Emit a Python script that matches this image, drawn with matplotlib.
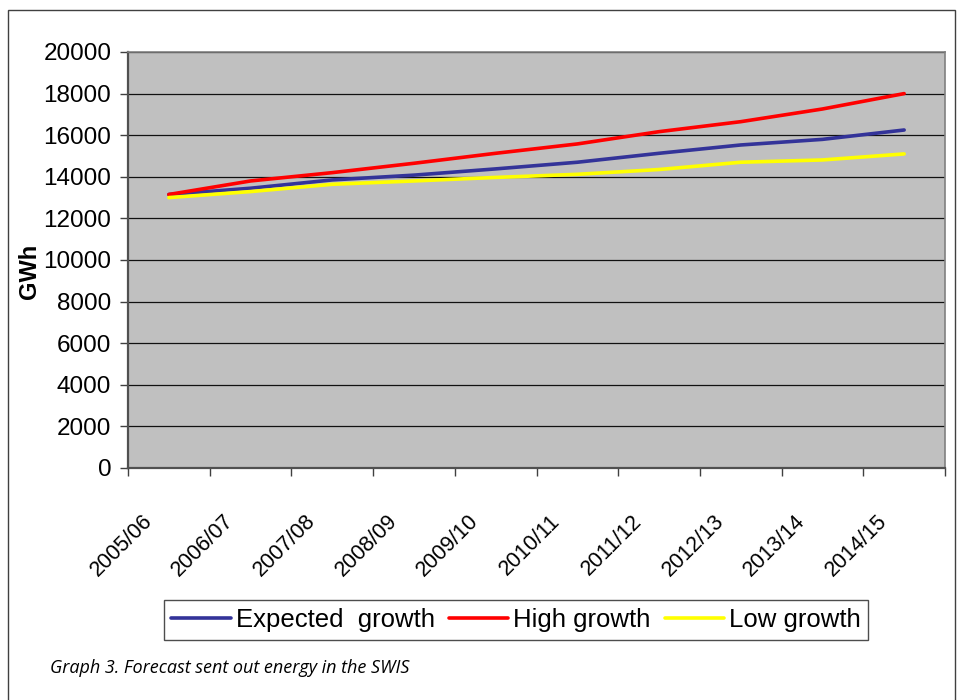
import matplotlib
matplotlib.use("Agg")
import matplotlib.pyplot as plt
import matplotlib.transforms as mtransforms
from matplotlib.patches import Rectangle
import numpy as np

# Financial years of the forecast
years = ["2005/06", "2006/07", "2007/08", "2008/09", "2009/10",
         "2010/11", "2011/12", "2012/13", "2013/14", "2014/15"]

# Sent out energy forecasts (GWh)
expected_growth = [13150, 13450, 13850, 14080, 14380, 14700, 15130, 15530, 15800, 16250]
high_growth = [13150, 13800, 14200, 14650, 15130, 15580, 16170, 16650, 17260, 18000]
low_growth = [13000, 13290, 13640, 13800, 13970, 14120, 14350, 14700, 14810, 15100]

y_ticks = list(range(0, 20001, 2000))

plt.rcParams["font.family"] = ["Liberation Sans", "DejaVu Sans"]

fig = plt.figure(figsize=(9.57, 7.0), dpi=100)
W, H = 957, 700

# outer frame around the chart and caption
fig.patches.append(Rectangle((8 / W, -0.01), (955 - 8) / W, 1 - 10 / H + 0.01,
                             transform=fig.transFigure, fill=False,
                             edgecolor="#404040", linewidth=1.0))

ax = fig.add_axes([128 / W, 1 - 468 / H, (945 - 128) / W, (468 - 52) / H])
ax.set_facecolor("#C0C0C0")

x = np.arange(len(years))
ax.plot(x, expected_growth, color="#333399", lw=2.6, label="Expected  growth",
        solid_capstyle="round")
ax.plot(x, high_growth, color="#FF0000", lw=2.6, label="High growth",
        solid_capstyle="round")
ax.plot(x, low_growth, color="#FFFF00", lw=2.6, label="Low growth",
        solid_capstyle="round")

ax.set_xlim(-0.5, len(years) - 0.5)
ax.set_ylim(0, 20000)
ax.set_yticks(y_ticks)
ax.set_yticklabels([str(v) for v in y_ticks])
ax.yaxis.grid(True, color="#111111", linewidth=0.9)
ax.set_axisbelow(True)

# category labels at centres, tick marks at the boundaries
ax.set_xticks(x)
ax.set_xticks(np.arange(-0.5, len(years)), minor=True)
ax.set_xticklabels(years, rotation=45, ha="right", va="center",
                   rotation_mode="anchor", fontsize=15.5)
ax.tick_params(axis="x", which="major", length=0, pad=36)
ax.tick_params(axis="x", which="minor", length=6, width=1.0, color="#404040",
               direction="out")
ax.tick_params(axis="y", length=6, width=1.0, color="#404040", direction="out",
               labelsize=17.5, pad=6)
shift = mtransforms.ScaledTranslation(-20 / 100, 0, fig.dpi_scale_trans)
for lbl in ax.get_xticklabels():
    lbl.set_transform(lbl.get_transform() + shift)

for side in ("left", "bottom"):
    ax.spines[side].set_color("#505050")
    ax.spines[side].set_linewidth(1.6)
for side in ("right", "top"):
    ax.spines[side].set_color("#808080")
    ax.spines[side].set_linewidth(1.2)

fig.text(30 / W, 1 - 271 / H, "GWh", rotation=90, ha="center", va="center",
         fontsize=17, fontweight="bold")

leg = fig.legend(loc="center", bbox_to_anchor=(516 / W, 1 - 620 / H), ncol=3,
                 fontsize=18.5, frameon=True, fancybox=False, handlelength=2.3,
                 handletextpad=0.2, columnspacing=0.55, borderpad=0.3,
                 borderaxespad=0)
leg.get_frame().set_edgecolor("#202020")
leg.get_frame().set_linewidth(1.0)

fig.text(50 / W, 1 - 668 / H, "Graph 3. Forecast sent out energy in the SWIS",
         ha="left", va="center", fontsize=13, style="italic",
         family=["Open Sans", "DejaVu Sans"])

fig.savefig("out.png", dpi=100, facecolor="white")
